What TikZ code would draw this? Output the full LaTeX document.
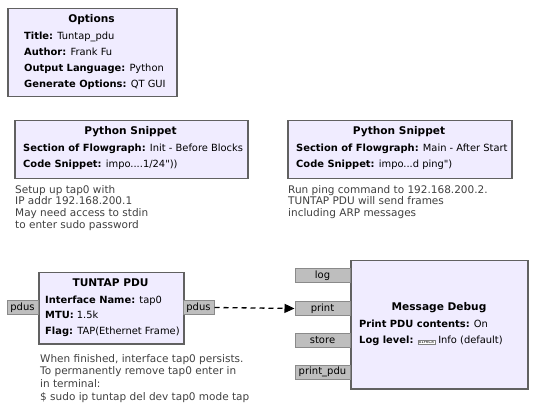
\documentclass[tikz,border=0pt]{standalone}
\usepackage{fontspec}
\setmainfont{DejaVu Sans}
\usetikzlibrary{arrows.meta}

\definecolor{blockfill}{HTML}{F0ECFF}
\definecolor{blockline}{HTML}{616161}
\definecolor{portfill}{HTML}{BEBEBE}
\definecolor{portline}{HTML}{8A8A8A}
\definecolor{notetext}{HTML}{404040}

\newcommand{\txtsize}{\fontsize{9.9}{11}\selectfont}
\newcommand{\missingglyph}{\fcolorbox{gray}{white}{\fontsize{4}{4}\selectfont 01F6C8}}

\tikzset{
  block/.style={draw=blockline, line width=1.5pt, fill=blockfill, rectangle,
    inner sep=0pt, anchor=north west},
  blocktitle/.style={font=\fontsize{10.6}{12}\selectfont\bfseries, inner sep=0pt, anchor=mid},
  param/.style={font=\txtsize, inner sep=0pt, anchor=mid west},
  port/.style={draw=portline, line width=1pt, fill=portfill, inner sep=0pt,
    minimum height=14pt, font=\fontsize{10}{11}\selectfont},
  note/.style={font=\fontsize{10.5}{11.8}\selectfont, text=notetext, align=left,
    inner sep=0pt, anchor=north west},
}

\begin{document}
\begin{tikzpicture}[x=1pt, y=-1pt]
    \useasboundingbox (0,0) rectangle (535,411);
    \setlength{\fboxsep}{0.6pt}
    \setlength{\fboxrule}{0.5pt}

    % Options
    \node[block, minimum width=169pt, minimum height=88pt] (options) at (7,8) {};
    \node[blocktitle] (optionstitle) at (91.5,20) {Options};
    \node[param] (opttitle) at (24,37) {\textbf{Title:} Tuntap\_pdu};
    \node[param] (optauthor) at (24,53) {\textbf{Author:} Frank Fu};
    \node[param] (optlang) at (24,69) {\textbf{Output Language:} Python};
    \node[param] (optgen) at (24,85) {\textbf{Generate Options:} QT GUI};

    % Python Snippet: init
    \node[block, minimum width=233pt, minimum height=58pt] (snipinit) at (14,120) {};
    \node[blocktitle] (snipinittitle) at (130.5,132) {Python Snippet};
    \node[param] (snipinitsect) at (23,149) {\textbf{Section of Flowgraph:} Init - Before Blocks};
    \node[param] (snipinitcode) at (23,165) {\textbf{Code Snippet:} impo....1/24\textquotedbl))};
    \node[note] (snipinitnote) at (15,185) {Setup up tap0 with\\IP addr 192.168.200.1\\May need access to stdin\\to enter sudo password};

    % Python Snippet: main
    \node[block, minimum width=224pt, minimum height=58pt] (snipmain) at (287,120) {};
    \node[blocktitle] (snipmaintitle) at (399,132) {Python Snippet};
    \node[param] (snipmainsect) at (296,149) {\textbf{Section of Flowgraph:} Main - After Start};
    \node[param] (snipmaincode) at (296,165) {\textbf{Code Snippet:} impo...d ping\textquotedbl)};
    \node[note] (snipmainnote) at (288,185) {Run ping command to 192.168.200.2.\\TUNTAP PDU will send frames\\including ARP messages};

    % TUNTAP PDU
    \node[block, minimum width=145pt, minimum height=71pt] (tuntap) at (38,272) {};
    \node[blocktitle] (tuntaptitle) at (110.5,284) {TUNTAP PDU};
    \node[param] (tuntapname) at (45,301) {\textbf{Interface Name:} tap0};
    \node[param] (tuntapmtu) at (45,316) {\textbf{MTU:} 1.5k};
    \node[param] (tuntapflag) at (45,332) {\textbf{Flag:} TAP(Ethernet Frame)};
    \node[port, minimum width=31pt] (tapin) at (22.5,307.5) {pdus};
    \node[port, minimum width=31pt] (tapout) at (198.5,307.5) {pdus};
    \node[note, font=\fontsize{10.5}{12.8}\selectfont] (tuntapnote) at (40,354) {When finished, interface tap0 persists.\\To permanently remove tap0 enter in\\in terminal:\\\$ sudo ip tuntap del dev tap0 mode tap};

    % Message Debug
    \node[block, minimum width=177pt, minimum height=128pt] (msgdebug) at (350,260) {};
    \node[blocktitle] (msgdebugtitle) at (439,308) {Message Debug};
    \node[param] (msgdebugprint) at (359,325) {\textbf{Print PDU contents:} On};
    \node[param] (msgdebuglog) at (359,341) {\textbf{Log level:} \missingglyph{} Info (default)};
    \node[port, minimum width=55pt] (dbglog) at (322.5,275.5) {log};
    \node[port, minimum width=55pt] (dbgprint) at (322.5,308.5) {print};
    \node[port, minimum width=55pt] (dbgstore) at (322.5,340.5) {store};
    \node[port, minimum width=55pt] (dbgprintpdu) at (322.5,372) {print\_pdu};

    % connection
    \draw[line width=1.3pt, dash pattern=on 5pt off 4pt,
      -{Triangle[length=10pt, width=9pt]}] (tapout.east) -- (dbgprint.west);
\end{tikzpicture}
\end{document}
